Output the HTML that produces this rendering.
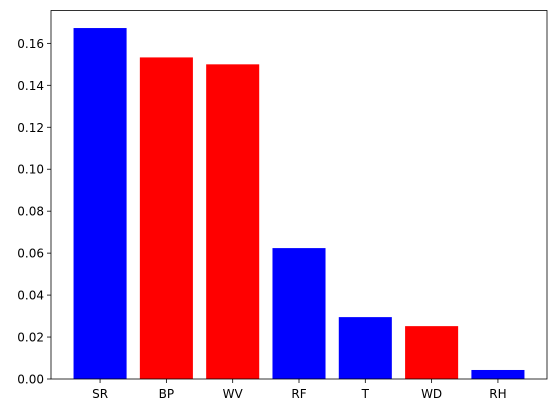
<!DOCTYPE html>
<html><head><meta charset="utf-8">
<style>
html,body{margin:0;padding:0;background:#fff;width:556px;height:413px;overflow:hidden}
text{font-family:"DejaVu Sans","Liberation Sans",sans-serif;font-size:12px;fill:#000}
</style></head>
<body>
<svg id="chart" width="556" height="413" xmlns="http://www.w3.org/2000/svg"></svg>
<script>
const categories = ["SR","BP","WV","RF","T","WD","RH"];
const values = [0.1673,0.1533,0.1500,0.0624,0.0295,0.0252,0.0043];
const colors = ["blue","red","red","blue","blue","red","blue"];
const yTicks = [0,0.02,0.04,0.06,0.08,0.10,0.12,0.14,0.16];
const yTickLabels = ["0.00","0.02","0.04","0.06","0.08","0.10","0.12","0.14","0.16"];

const svg = document.getElementById('chart');
const NS = "http://www.w3.org/2000/svg";
const L=51, R=547, T=10.5, B=379;
const ymax = Math.max(...values)*1.05;
const xmin = -0.74, xmax = categories.length-1+0.74;
const xs = v => L + (v - xmin)/(xmax - xmin)*(R-L);
const ys = v => B - v/ymax*(B-T);
function mk(tag, attrs){const e=document.createElementNS(NS,tag);for(const k in attrs)e.setAttribute(k,attrs[k]);svg.appendChild(e);return e;}

values.forEach((v,i)=>{
  const r = mk('rect',{x:xs(i-0.4),y:ys(v),width:xs(i+0.4)-xs(i-0.4),height:ys(0)-ys(v),fill:colors[i]});
  
  
  mk('line',{x1:xs(i),x2:xs(i),y1:B,y2:B+4,stroke:'#000','stroke-width':0.8});
  const t = mk('text',{x:xs(i),y:B+19,'text-anchor':'middle'});
  t.textContent = categories[i];
  
  
});
yTicks.forEach((v,i)=>{
  mk('line',{x1:L-4,x2:L,y1:ys(v),y2:ys(v),stroke:'#000','stroke-width':0.8});
  const t = mk('text',{x:L-7,y:ys(v)+4.5,'text-anchor':'end'});
  t.textContent = yTickLabels[i];
  
  
});
const frame = mk('rect',{x:L,y:T,width:R-L,height:B-T,fill:'none',stroke:'#000','stroke-width':0.8});


</script>
</body></html>
